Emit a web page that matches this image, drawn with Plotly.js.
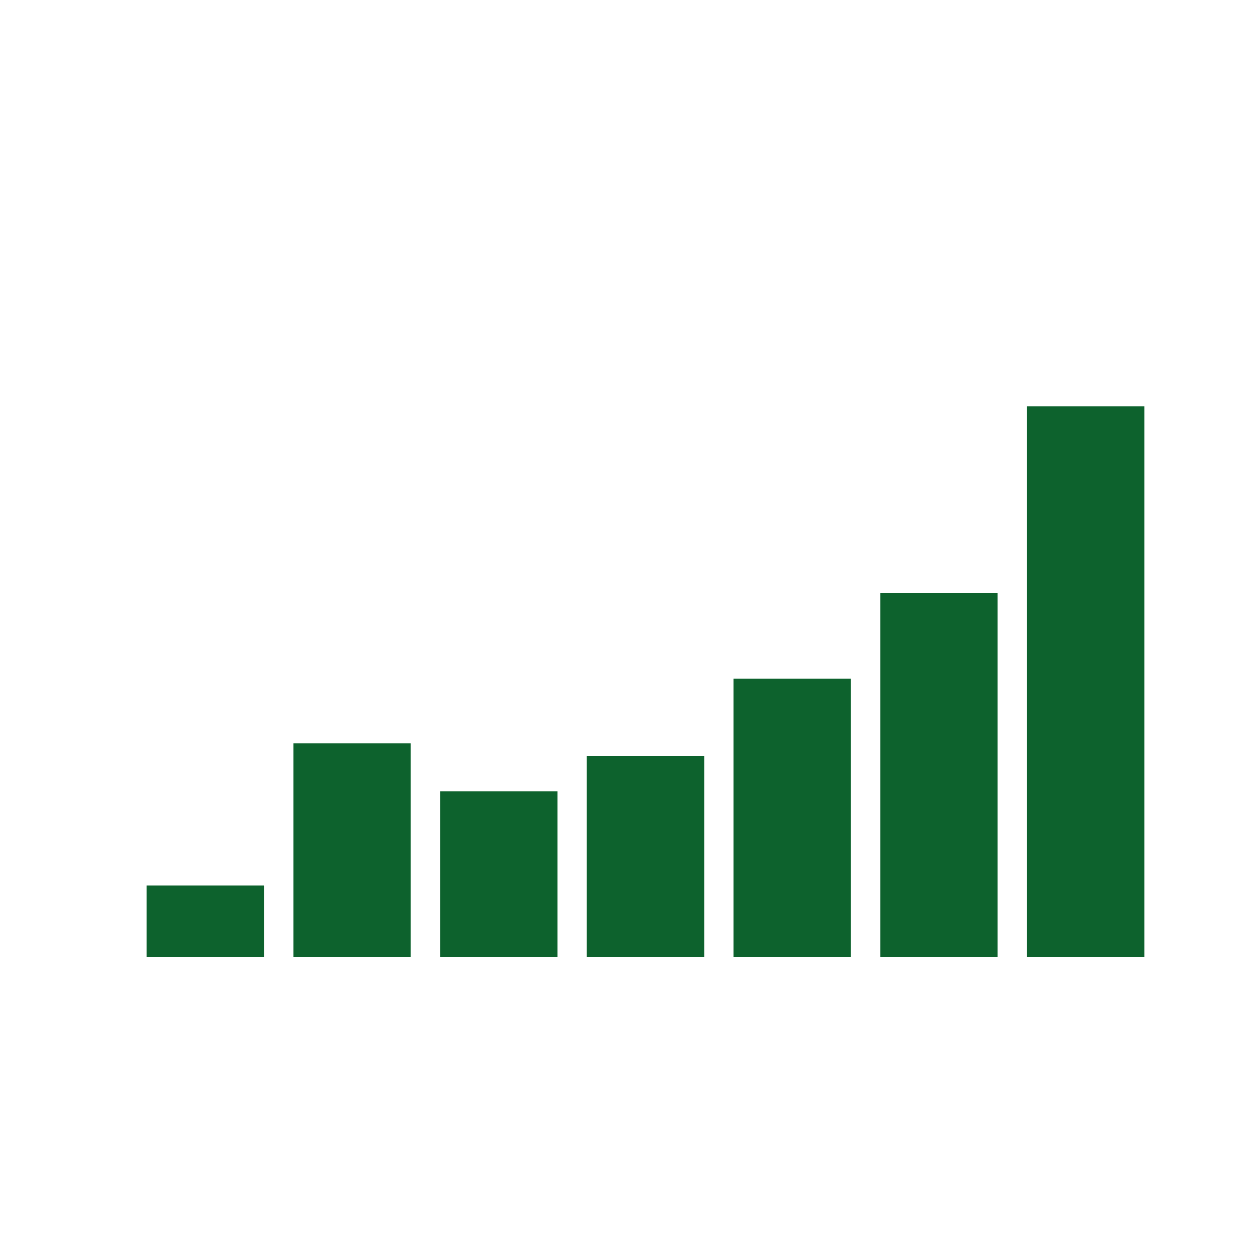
<!DOCTYPE html>
<html>
<head>
<meta charset="utf-8">
<script src="https://cdn.plot.ly/plotly-3.0.1.min.js"></script>
<style>html,body{margin:0;padding:0;background:#fff;}#chart{width:1254px;height:1254px;}</style>
</head>
<body>
<div id="chart"></div>
<script>
const categories = ["A", "B", "C", "D", "E", "F", "G"];
const values = [1.3, 3.88, 3.01, 3.65, 5.05, 6.61, 10.0];

Plotly.newPlot("chart", [{
  type: "bar",
  x: categories,
  y: values,
  marker: { color: "#0d622d", line: { width: 0 } },
  hoverinfo: "none"
}], {
  width: 1254,
  height: 1254,
  margin: { l: 132, r: 95, t: 296, b: 297 },
  bargap: 0.2,
  paper_bgcolor: "#ffffff",
  plot_bgcolor: "#ffffff",
  showlegend: false,
  xaxis: { visible: false, type: "category" },
  yaxis: { visible: false, range: [0, 12] }
}, { displayModeBar: false, staticPlot: true });
</script>
</body>
</html>
